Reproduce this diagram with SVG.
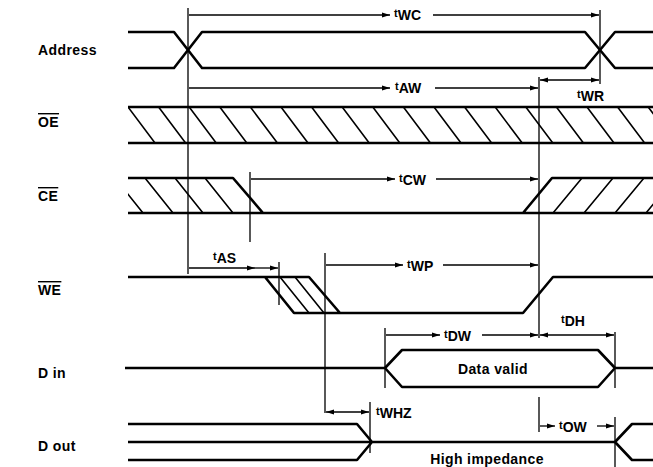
<svg xmlns="http://www.w3.org/2000/svg" width="653" height="467" viewBox="0 0 653 467">
<style>
.sig{fill:none;stroke:#000;stroke-width:2.6;stroke-linejoin:round}
.h{fill:none;stroke:#000;stroke-width:1.6}
.v{fill:none;stroke:#000;stroke-width:1.3}
.d{fill:none;stroke:#000;stroke-width:1.3}
.ds{marker-start:url(#a)}
.de{marker-end:url(#a)}
text{font-family:"Liberation Sans",Arial,sans-serif;font-weight:bold;fill:#000}
.lab{font-size:14px;letter-spacing:0.4px}
.tm{font-size:14px}
.t{font-size:11px}
.ov{text-decoration:overline}
</style>
<defs>
<marker id="a" viewBox="0 0 8 6" refX="8" refY="3" markerWidth="8" markerHeight="6" markerUnits="userSpaceOnUse" orient="auto-start-reverse"><path d="M0,0.5 L8,3 L0,5.5 z" fill="#000"/></marker>
<clipPath id="cOE"><rect x="128" y="107" width="525" height="36"/></clipPath>
<clipPath id="cCE1"><polygon points="128,178 233,178 263,213 128,213"/></clipPath>
<clipPath id="cCE2"><polygon points="523,213 552,178 653,178 653,213"/></clipPath>
</defs>

<g id="labels">
<text class="lab" x="38" y="55">Address</text>
<text class="lab ov" x="38" y="127">OE</text>
<text class="lab ov" x="38" y="201">CE</text>
<text class="lab ov" x="38" y="295">WE</text>
<text class="lab" x="38" y="378">D in</text>
<text class="lab" x="38" y="451">D out</text>
</g>

<g id="address">
<path class="sig" d="M128,32 H174 L202,68 H585 L615,32 H653"/>
<path class="sig" d="M128,68 H174 L202,32 H585 L615,68 H653"/>
</g>

<g id="oe">
<path class="sig" d="M128,107 H653 M128,143 H653"/>
<g class="h" clip-path="url(#cOE)">
<path d="M128,107 l27,36 M158.6,107 l27,36 M189.2,107 l27,36 M219.8,107 l27,36 M250.4,107 l27,36 M281,107 l27,36 M311.6,107 l27,36 M342.2,107 l27,36 M372.8,107 l27,36 M403.4,107 l27,36 M434,107 l27,36 M464.6,107 l27,36 M495.2,107 l27,36 M525.8,107 l27,36 M556.4,107 l27,36 M587,107 l27,36 M617.6,107 l27,36 M648.2,107 l27,36"/>
</g>
</g>

<g id="ce">
<path class="sig" d="M128,178 H233 L263,213 M128,213 H523 L552,178 H653 M523,213 H653"/>
<g class="h" clip-path="url(#cCE1)">
<path d="M115,178 l28,35 M145,178 l28,35 M175,178 l28,35 M205,178 l28,35"/>
</g>
<g class="h" clip-path="url(#cCE2)">
<path d="M553,213 l29,-35 M584,213 l29,-35 M615,213 l29,-35 M646,213 l29,-35"/>
</g>
</g>

<g id="we">
<path class="sig" d="M128,277 H309 L340,313 M265,277 L294,313 H523 L553,277 H653"/>
<path class="h" d="M280,277 L309,313 M295,277 L324,313"/>
</g>

<g id="din">
<path class="sig" d="M125,368 H385 L402,350 H598 L615,368 H653 M385,368 L402,387 H598 L615,368"/>
<text class="lab" x="493" y="374" text-anchor="middle">Data valid</text>
</g>

<g id="dout">
<path class="sig" d="M128,424 H357 L372,442 M128,460 H357 L372,442 M128,442 H615 L632,424 H653 M615,442 L632,460 H653"/>
<text class="lab" x="487" y="464" text-anchor="middle">High impedance</text>
</g>

<g id="connectors">
<path class="v" d="M188,8 V274 M600,10 V84 M539,77 V338 M250,172 V242 M279,262 V305 M325,253 V413 M385,328 V388 M615,332 V388 M370,402 V453 M539,397 V432 M615,417 V467"/>
<path class="d ds" d="M390,15 H189"/>
<path class="d de" d="M433,15 H599"/>
<path class="d ds" d="M390,88 H189"/>
<path class="d de" d="M435,88 H538"/>
<path class="d ds de" d="M540,80 H599"/>
<path class="d ds" d="M395,179 H251"/>
<path class="d de" d="M436,179 H538"/>
<path class="d ds" d="M255,268 H189"/>
<path class="d de" d="M255,268 H278"/>
<path class="d ds" d="M403,265 H326"/>
<path class="d de" d="M443,265 H538"/>
<path class="d ds" d="M440,335 H386"/>
<path class="d de" d="M482,335 H538"/>
<path class="d ds de" d="M540,335 H614"/>
<path class="d ds de" d="M326,412 H369"/>
<path class="d ds" d="M555,426 H540"/>
<path class="d de" d="M597,426 H614"/>
</g>

<g id="timing-labels">
<text class="tm" x="394" y="20"><tspan class="t" dy="-3">t</tspan><tspan dy="3">WC</tspan></text>
<text class="tm" x="395" y="93"><tspan class="t" dy="-3">t</tspan><tspan dy="3">AW</tspan></text>
<text class="tm" x="577" y="101"><tspan class="t" dy="-3">t</tspan><tspan dy="3">WR</tspan></text>
<text class="tm" x="399" y="185"><tspan class="t" dy="-3">t</tspan><tspan dy="3">CW</tspan></text>
<text class="tm" x="407" y="271"><tspan class="t" dy="-3">t</tspan><tspan dy="3">WP</tspan></text>
<text class="tm" x="213" y="263"><tspan class="t" dy="-3">t</tspan><tspan dy="3">AS</tspan></text>
<text class="tm" x="444" y="341"><tspan class="t" dy="-3">t</tspan><tspan dy="3">DW</tspan></text>
<text class="tm" x="561" y="326"><tspan class="t" dy="-3">t</tspan><tspan dy="3">DH</tspan></text>
<text class="tm" x="376" y="418"><tspan class="t" dy="-3">t</tspan><tspan dy="3">WHZ</tspan></text>
<text class="tm" x="559" y="432"><tspan class="t" dy="-3">t</tspan><tspan dy="3">OW</tspan></text>
</g>
</svg>
